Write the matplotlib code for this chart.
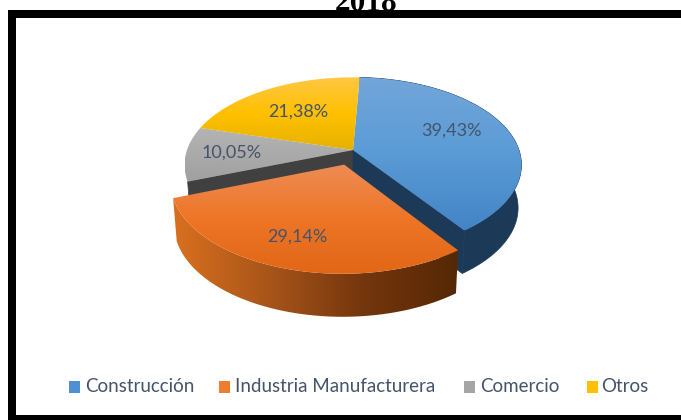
import numpy as np
import matplotlib
matplotlib.use("Agg")
import matplotlib.pyplot as plt
from matplotlib.patches import Polygon, Rectangle
from matplotlib.colors import LinearSegmentedColormap as LSC

title = "2018"
categories = ["Construcción", "Industria Manufacturera", "Comercio", "Otros"]
values = [39.43, 29.14, 10.05, 21.38]

W, H = 681, 420
fig = plt.figure(figsize=(W / 100, H / 100), dpi=100)
ax = fig.add_axes([0, 0, 1, 1])
ax.set_xlim(0, W)
ax.set_ylim(H, 0)
ax.axis("off")

CX, CY, RX, RY, K, DEPTH = 353.0, 150.0, 166.0, 85.0, 0.17, 43.0
START = 2.7
EXPLODE = 0.175


def project(theta, r=1.0, off=(0.0, 0.0), z=0.0):
    t = np.radians(theta)
    u = r * np.sin(t) + off[0]
    v = r * np.cos(t) + off[1]
    s = 1.0 / (1.0 + K * v)
    shrink = 1.0 - 0.02 * (z / DEPTH)
    return np.column_stack([CX + RX * u * s * shrink, CY - RY * v * s + z])


def fill_gradient(poly, colors, horizontal=False, zorder=1):
    xmin, ymin = poly.min(axis=0)
    xmax, ymax = poly.max(axis=0)
    grad = np.linspace(0, 1, 256)
    grad = grad[None, :] if horizontal else grad[:, None]
    im = ax.imshow(grad, cmap=LSC.from_list("g", colors), vmin=0, vmax=1,
                   extent=(xmin, xmax, ymax, ymin), aspect="auto", zorder=zorder,
                   interpolation="bilinear")
    patch = Polygon(poly, closed=True, transform=ax.transData, fc="none", ec="none")
    ax.add_patch(patch)
    im.set_clip_path(patch)


angles = START + np.concatenate([[0], np.cumsum(values)]) * 3.6
arcs = [np.linspace(angles[i], angles[i + 1], 90) for i in range(len(values))]
mid = np.radians((angles[1] + angles[2]) / 2)
off = (EXPLODE * np.sin(mid), EXPLODE * np.cos(mid))
no_off = (0.0, 0.0)


def top_poly(i, o=no_off):
    apex = project(0, 0, o)
    return np.vstack([apex, project(arcs[i], 1, o)])


def wall_outer(i, o=no_off):
    a = project(arcs[i], 1, o)
    b = project(arcs[i], 1, o, DEPTH)
    return np.vstack([a, b[::-1]])


def wall_radial(theta, o=no_off):
    return np.vstack([project(0, 0, o), project(theta, 1, o),
                      project(theta, 1, o, DEPTH), project(0, 0, o, DEPTH)])


# inner walls and outer wall of the un-exploded back slices
navy = "#1c3a57"
ax.add_patch(Polygon(wall_radial(angles[2]), fc="#404040", ec="#404040", lw=0.5, zorder=1))
ax.add_patch(Polygon(wall_radial(angles[1]), fc=navy, ec=navy, lw=0.5, zorder=1))
ax.add_patch(Polygon(wall_outer(0), fc=navy, ec=navy, lw=0.5, zorder=1))

# top faces
fill_gradient(top_poly(0), ["#73a6da", "#5b9bd5", "#4284c6"], zorder=2)
fill_gradient(top_poly(2), ["#b4b4b4", "#a0a0a0"], zorder=2)
fill_gradient(top_poly(3), ["#ffc745", "#ffc000", "#e6b200"], zorder=2)

# exploded slice
fill_gradient(wall_outer(1, off), ["#d9701f", "#a8551a", "#74360d", "#552805"],
              horizontal=True, zorder=3)
fill_gradient(top_poly(1, off), ["#ee8c55", "#ed7526", "#e26717"], zorder=4)

# data labels
label_pos = [(451, 131), (297, 237), (232, 153), (298, 112)]
for v, (x, y) in zip(values, label_pos):
    ax.text(x, y, f"{v:.2f}%".replace(".", ","), family="Lato", fontsize=13,
            color="#44546a", ha="center", va="center", zorder=6)

# legend
swatches = ["#4f90d2", "#ed7d31", "#a5a5a5", "#ffc000"]
box_x = [69, 219, 464, 587]
text_x = [85, 235, 480, 601]
for cat, col, bx, tx in zip(categories, swatches, box_x, text_x):
    ax.add_patch(Rectangle((bx, 381), 11, 12, fc=col, ec="none", zorder=6))
    ax.text(tx, 387, cat, family="Lato", fontsize=13.5, color="#44546a",
            ha="left", va="center", zorder=6)

# title, cut by the frame and the top of the picture
ax.text(366, 11, title, family="Liberation Serif", weight="bold", fontsize=22.5,
        color="black", ha="center", va="baseline", zorder=1)

# frame: top, bottom and left bars only
for r in [(8, 10, W - 8, 8), (8, 415, W - 8, 5), (8, 10, 8, 410)]:
    ax.add_patch(Rectangle((r[0], r[1]), r[2], r[3], fc="black", ec="none", zorder=8))

fig.savefig("out.png", dpi=100, facecolor="white")
